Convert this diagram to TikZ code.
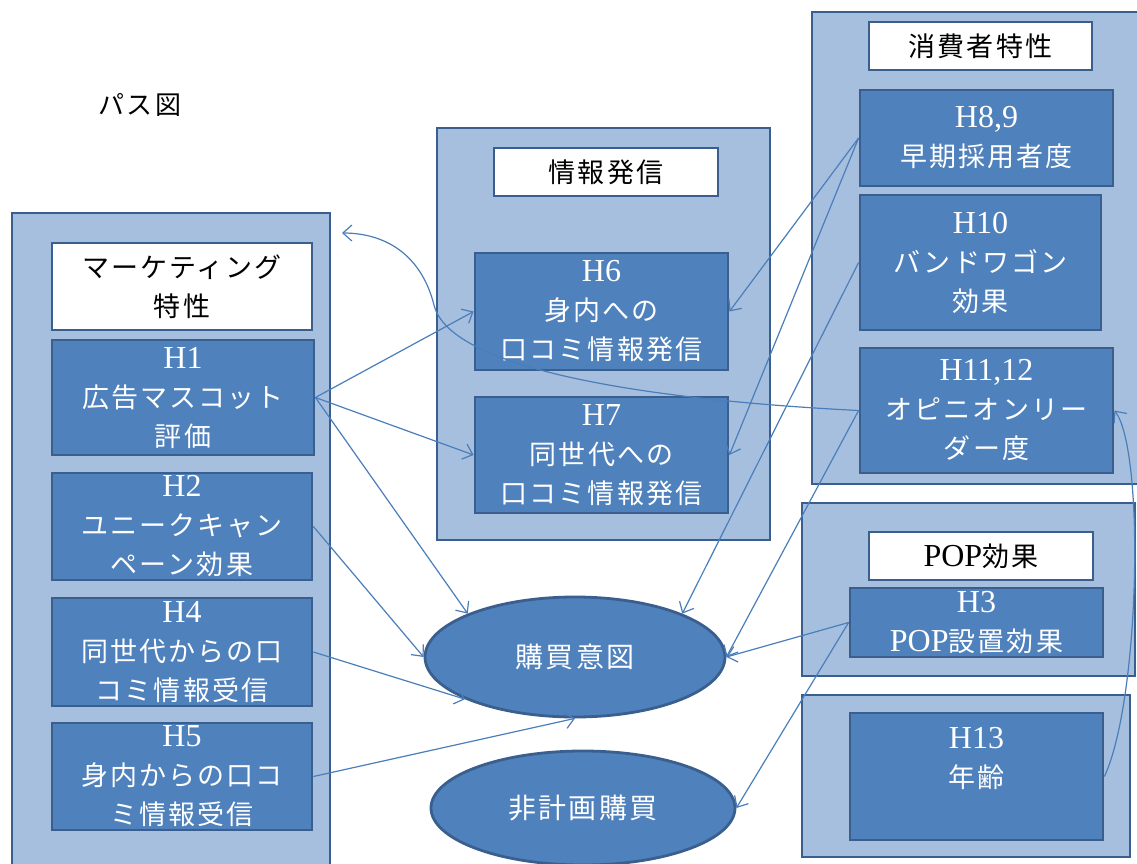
\documentclass[tikz,border=0pt]{standalone}
\usepackage{fontspec}
\setmainfont{Liberation Serif}
\newfontfamily\jp{Noto Sans CJK JP}[LetterSpace=8]
\usetikzlibrary{arrows.meta,shapes.geometric}
\definecolor{lightfill}{RGB}{167,191,222}
\definecolor{darkfill}{RGB}{79,129,189}
\definecolor{bordercol}{RGB}{58,95,142}
\definecolor{linecol}{RGB}{74,126,187}
\newcommand\J[1]{{\jp #1}}
\newcommand\HL[1]{{\fontsize{32}{39}\selectfont #1}}
\begin{document}
\begin{tikzpicture}[x=1pt,y=-1pt,
  outerbox/.style={draw=bordercol, fill=lightfill, line width=2.8pt, rectangle, inner sep=0pt},
  innerbox/.style={draw=bordercol, fill=darkfill, line width=2.8pt, rectangle, text=white, align=center, inner sep=0pt, font=\fontsize{27}{39}\selectfont},
  titlebox/.style={draw=bordercol, fill=white, line width=2.8pt, rectangle, text=black, align=center, inner sep=0pt, font=\fontsize{27}{39}\selectfont},
  ellnode/.style={ellipse, draw=bordercol, fill=darkfill, line width=2.8pt, text=white, inner sep=0pt, font=\fontsize{28}{39}\selectfont},
  conn/.style={draw=linecol, line width=1.2pt, -{Straight Barb[length=9pt,width=16pt]}},
]
\clip (0,0) rectangle (1137,864);
\fill[white] (0,0) rectangle (1137,864);

\node[font=\fontsize{26}{30}\selectfont] (pathlabel) at (140,105) {\J{パス図}};

% outer boxes
\node[outerbox, minimum width=318pt, minimum height=667pt] (mk) at (171,546.5) {};
\node[outerbox, minimum width=333pt, minimum height=412pt] (info) at (603.5,334) {};
\node[outerbox, minimum width=338pt, minimum height=472pt] (cons) at (981,248) {};
\node[outerbox, minimum width=333pt, minimum height=173pt] (pop) at (968.5,589.5) {};
\node[outerbox, minimum width=328pt, minimum height=162pt] (age) at (966,776) {};

% titles
\node[titlebox, minimum width=260pt, minimum height=87pt] (mt) at (182,286.5) {\J{マーケティング}\\\J{特性}};
\node[titlebox, minimum width=224pt, minimum height=48pt] (it) at (606,172) {\J{情報発信}};
\node[titlebox, minimum width=223pt, minimum height=48pt] (ct) at (980.5,46) {\J{消費者特性}};
\node[titlebox, minimum width=224pt, minimum height=48pt] (pt) at (981,556) {\HL{POP}\J{効果}};

% inner boxes
\node[innerbox, minimum width=262pt, minimum height=115pt] (h1) at (183,397.5) {\HL{H1}\\\J{広告マスコット}\\\J{評価}};
\node[innerbox, minimum width=260pt, minimum height=107pt] (h2) at (182,526.5) {\HL{H2}\\\J{ユニークキャン}\\\J{ペーン効果}};
\node[innerbox, minimum width=260pt, minimum height=108pt] (h4) at (182,652) {\HL{H4}\\\J{同世代からの口}\\\J{コミ情報受信}};
\node[innerbox, minimum width=260pt, minimum height=107pt] (h5) at (182,776.5) {\HL{H5}\\\J{身内からの口コ}\\\J{ミ情報受信}};
\node[innerbox, minimum width=253pt, minimum height=117pt] (h6) at (601.5,311.5) {\HL{H6}\\\J{身内への}\\\J{口コミ情報発信}};
\node[innerbox, minimum width=253pt, minimum height=116pt] (h7) at (601.5,455) {\HL{H7}\\\J{同世代への}\\\J{口コミ情報発信}};
\node[innerbox, minimum width=253pt, minimum height=96pt] (h89) at (986.5,138) {\HL{H8,9}\\\J{早期採用者度}};
\node[innerbox, minimum width=241pt, minimum height=135pt] (h10) at (980.5,262.5) {\HL{H10}\\\J{バンドワゴン}\\\J{効果}};
\node[innerbox, minimum width=253pt, minimum height=125pt] (h11) at (986.5,410.5) {\HL{H11,12}\\\J{オピニオンリー}\\\J{ダー度}};
\node[innerbox, minimum width=253pt, minimum height=69pt] (h3) at (976.5,622.5) {\HL{H3}\\\HL{POP}\J{設置効果}};
\node[innerbox, minimum width=253pt, minimum height=127pt] (h13) at (976.5,776.5) {\HL{H13}\\\J{年齢}\\\mbox{}};

% ellipses
\node[ellnode, minimum width=300pt, minimum height=120pt] (gi) at (575,657) {\J{購買意図}};
\node[ellnode, minimum width=304pt, minimum height=114pt] (hk) at (583,808) {\J{非計画購買}};

\coordinate (mkend) at (342,233);

% connectors
\draw[conn] (h1.east) -- (h6.west);
\draw[conn] (h1.east) -- (h7.west);
\draw[conn] (h1.east) -- (gi.158);
\draw[conn] (h2.east) -- (gi.west);
\draw[conn] (h4.east) -- (gi.201);
\draw[conn] (h5.east) -- (gi.270);
\draw[conn] (h89.west) -- (h6.east);
\draw[conn] (h89.west) -- (h7.east);
\draw[conn] (h10.west) -- (gi.22);
\draw[conn] (h11.west) -- (gi.east);
\draw[conn] (h3.west) -- (gi.east);
\draw[conn] (h3.west) -- (hk.east);
\draw[conn] (h11.west) .. controls (650,400) and (450,370) .. (434,305) .. controls (420,250) and (380,233) .. (mkend);
\draw[conn] (h13.east) .. controls (1140,700) and (1145,450) .. (h11.east);
\end{tikzpicture}
\end{document}
